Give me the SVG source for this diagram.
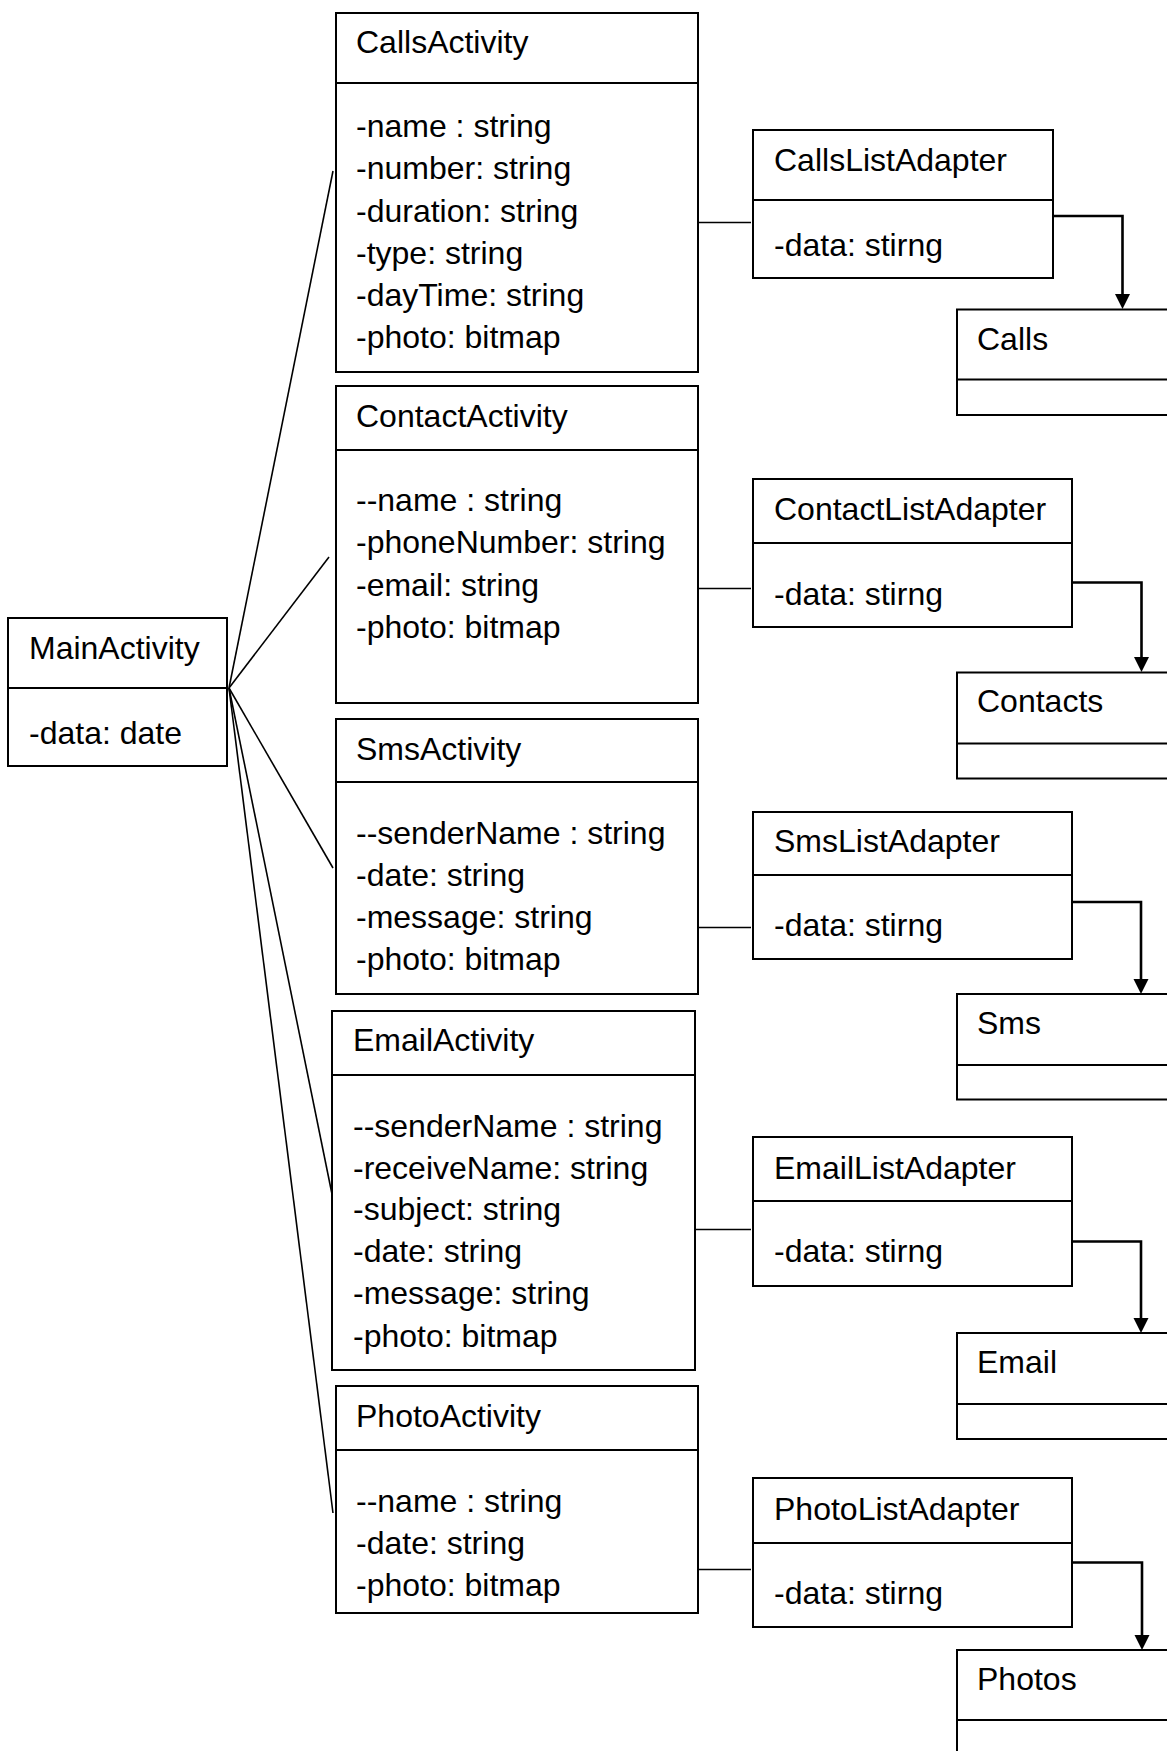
<svg xmlns="http://www.w3.org/2000/svg" width="1167" height="1751" viewBox="0 0 1167 1751">
  <style>
    .box { fill: #ffffff; stroke: #000000; stroke-width: 2; }
    .div { stroke: #000000; stroke-width: 2; fill: none; }
    .t { font-family: "Liberation Sans", Arial, sans-serif; font-size: 32px; fill: #000000; }
    .assoc { stroke: #000000; stroke-width: 1.6; fill: none; }
    .dep { stroke: #000000; stroke-width: 2.6; fill: none; }
    .head { fill: #000000; }
  </style>
  <rect width="1167" height="1751" fill="#ffffff"/>

  <!-- connectors -->
  <g id="connectors">
    <!-- MainActivity to each activity -->
    <line class="assoc" x1="229" y1="688" x2="333" y2="171"/>
    <line class="assoc" x1="229" y1="688" x2="329" y2="557"/>
    <line class="assoc" x1="229" y1="688" x2="333" y2="868"/>
    <line class="assoc" x1="229" y1="688" x2="333" y2="1199"/>
    <line class="assoc" x1="229" y1="688" x2="333" y2="1513"/>
    <!-- activity to adapter -->
    <line class="assoc" x1="694.5" y1="222.5" x2="751" y2="222.5"/>
    <line class="assoc" x1="698" y1="588.5" x2="751" y2="588.5"/>
    <line class="assoc" x1="698" y1="927.5" x2="751" y2="927.5"/>
    <line class="assoc" x1="695" y1="1229.5" x2="751" y2="1229.5"/>
    <line class="assoc" x1="698" y1="1569.5" x2="751" y2="1569.5"/>
    <!-- adapter to model -->
    <path class="dep" d="M1052.5,216 H1122.5 V294"/>
    <path class="head" d="M1115,294 L1130,294 L1122.5,309 Z"/>
    <path class="dep" d="M1071.5,589 V582.5 H1141.5 V657"/>
    <path class="head" d="M1134,657 L1149,657 L1141.5,672 Z"/>
    <path class="dep" d="M1071,909 V902 H1141 V979"/>
    <path class="head" d="M1133.5,979 L1148.5,979 L1141,994 Z"/>
    <path class="dep" d="M1071,1248 V1241.5 H1141 V1318"/>
    <path class="head" d="M1133.5,1318 L1148.5,1318 L1141,1333 Z"/>
    <path class="dep" d="M1071,1569 V1562.5 H1142 V1635"/>
    <path class="head" d="M1134.5,1635 L1149.5,1635 L1142,1650 Z"/>
  </g>

  <!-- MainActivity -->
  <g id="MainActivity">
    <rect class="box" x="8" y="618" width="219" height="148"/>
    <line class="div" x1="8" y1="688" x2="227" y2="688"/>
    <text class="t" x="29" y="659">MainActivity</text>
    <text class="t" x="29" y="744">-data: date</text>
  </g>

  <!-- CallsActivity -->
  <g id="CallsActivity">
    <rect class="box" x="336" y="13" width="362" height="359"/>
    <line class="div" x1="336" y1="83" x2="698" y2="83"/>
    <text class="t" x="356" y="53">CallsActivity</text>
    <text class="t" x="356" y="137">-name : string</text>
    <text class="t" x="356" y="179">-number: string</text>
    <text class="t" x="356" y="221.5">-duration: string</text>
    <text class="t" x="356" y="263.5">-type: string</text>
    <text class="t" x="356" y="306">-dayTime: string</text>
    <text class="t" x="356" y="348">-photo: bitmap</text>
  </g>

  <!-- ContactActivity -->
  <g id="ContactActivity">
    <rect class="box" x="336" y="386" width="362" height="317"/>
    <line class="div" x1="336" y1="450" x2="698" y2="450"/>
    <text class="t" x="356" y="426.5">ContactActivity</text>
    <text class="t" x="356" y="510.5">--name : string</text>
    <text class="t" x="356" y="553">-phoneNumber: string</text>
    <text class="t" x="356" y="595.5">-email: string</text>
    <text class="t" x="356" y="638">-photo: bitmap</text>
  </g>

  <!-- SmsActivity -->
  <g id="SmsActivity">
    <rect class="box" x="336" y="719" width="362" height="275"/>
    <line class="div" x1="336" y1="782" x2="698" y2="782"/>
    <text class="t" x="356" y="760">SmsActivity</text>
    <text class="t" x="356" y="843.5">--senderName : string</text>
    <text class="t" x="356" y="885.5">-date: string</text>
    <text class="t" x="356" y="927.5">-message: string</text>
    <text class="t" x="356" y="969.5">-photo: bitmap</text>
  </g>

  <!-- EmailActivity -->
  <g id="EmailActivity">
    <rect class="box" x="332" y="1011" width="363" height="359"/>
    <line class="div" x1="332" y1="1075" x2="695" y2="1075"/>
    <text class="t" x="353" y="1050.5">EmailActivity</text>
    <text class="t" x="353" y="1136.5">--senderName : string</text>
    <text class="t" x="353" y="1178.5">-receiveName: string</text>
    <text class="t" x="353" y="1220">-subject: string</text>
    <text class="t" x="353" y="1262">-date: string</text>
    <text class="t" x="353" y="1304">-message: string</text>
    <text class="t" x="353" y="1346.5">-photo: bitmap</text>
  </g>

  <!-- PhotoActivity -->
  <g id="PhotoActivity">
    <rect class="box" x="336" y="1386" width="362" height="227"/>
    <line class="div" x1="336" y1="1450" x2="698" y2="1450"/>
    <text class="t" x="356" y="1426.5">PhotoActivity</text>
    <text class="t" x="356" y="1511.5">--name : string</text>
    <text class="t" x="356" y="1554">-date: string</text>
    <text class="t" x="356" y="1596">-photo: bitmap</text>
  </g>

  <!-- list adapters -->
  <g id="CallsListAdapter">
    <rect class="box" x="753" y="130" width="300" height="148"/>
    <line class="div" x1="753" y1="200" x2="1053" y2="200"/>
    <text class="t" x="774" y="170.5">CallsListAdapter</text>
    <text class="t" x="774" y="256">-data: stirng</text>
  </g>
  <g id="ContactListAdapter">
    <rect class="box" x="753" y="479" width="319" height="148"/>
    <line class="div" x1="753" y1="543" x2="1072" y2="543"/>
    <text class="t" x="774" y="520">ContactListAdapter</text>
    <text class="t" x="774" y="605">-data: stirng</text>
  </g>
  <g id="SmsListAdapter">
    <rect class="box" x="753" y="812" width="319" height="147"/>
    <line class="div" x1="753" y1="875" x2="1072" y2="875"/>
    <text class="t" x="774" y="851.5">SmsListAdapter</text>
    <text class="t" x="774" y="936">-data: stirng</text>
  </g>
  <g id="EmailListAdapter">
    <rect class="box" x="753" y="1137" width="319" height="149"/>
    <line class="div" x1="753" y1="1201" x2="1072" y2="1201"/>
    <text class="t" x="774" y="1178.5">EmailListAdapter</text>
    <text class="t" x="774" y="1262">-data: stirng</text>
  </g>
  <g id="PhotoListAdapter">
    <rect class="box" x="753" y="1478" width="319" height="149"/>
    <line class="div" x1="753" y1="1543" x2="1072" y2="1543"/>
    <text class="t" x="774" y="1519.5">PhotoListAdapter</text>
    <text class="t" x="774" y="1603.5">-data: stirng</text>
  </g>

  <!-- model classes -->
  <g id="Calls">
    <rect class="box" x="957" y="309.5" width="240" height="105.5"/>
    <line class="div" x1="957" y1="379.5" x2="1197" y2="379.5"/>
    <text class="t" x="977" y="349.5">Calls</text>
  </g>
  <g id="Contacts">
    <rect class="box" x="957" y="672.5" width="240" height="106"/>
    <line class="div" x1="957" y1="743.5" x2="1197" y2="743.5"/>
    <text class="t" x="977" y="711.5">Contacts</text>
  </g>
  <g id="Sms">
    <rect class="box" x="957" y="994" width="240" height="105.5"/>
    <line class="div" x1="957" y1="1065" x2="1197" y2="1065"/>
    <text class="t" x="977" y="1033.5">Sms</text>
  </g>
  <g id="Email">
    <rect class="box" x="957" y="1333" width="240" height="106"/>
    <line class="div" x1="957" y1="1404" x2="1197" y2="1404"/>
    <text class="t" x="977" y="1372.5">Email</text>
  </g>
  <g id="Photos">
    <rect class="box" x="957" y="1650" width="240" height="120"/>
    <line class="div" x1="957" y1="1720" x2="1197" y2="1720"/>
    <text class="t" x="977" y="1690">Photos</text>
  </g>
</svg>
